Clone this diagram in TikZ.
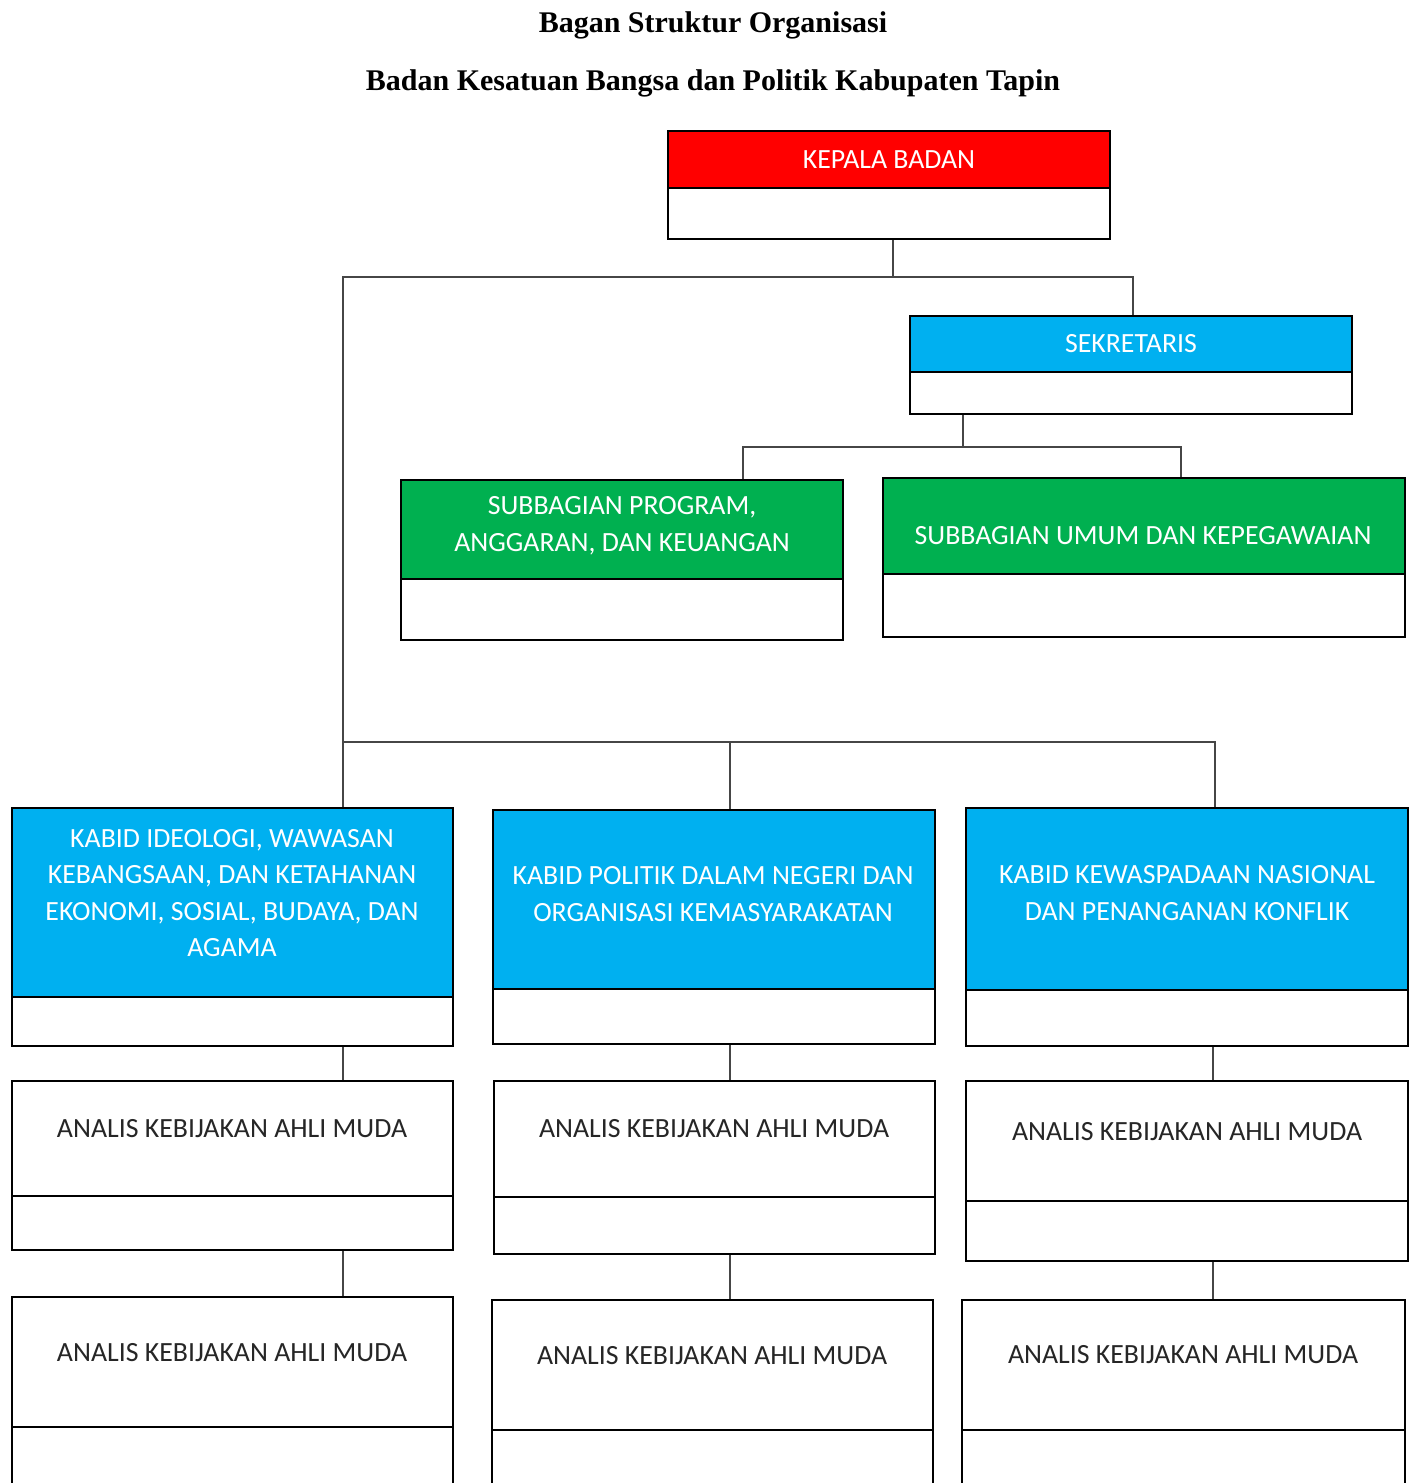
\documentclass[tikz,border=0pt]{standalone}
\usepackage{fontspec}
\setmainfont{Liberation Serif}
\newfontfamily\boxfont{Carlito}
\usetikzlibrary{fit}
\definecolor{kred}{RGB}{255,0,0}
\definecolor{kblue}{RGB}{0,176,240}
\definecolor{kgreen}{RGB}{0,176,80}
\definecolor{lineg}{RGB}{70,70,70}
\tikzset{
  hdr/.style={draw=black, line width=1pt, inner sep=0pt},
  ftr/.style={draw=black, line width=1pt, fill=white, inner sep=0pt},
  conn/.style={draw=lineg, line width=0.8pt},
  wtxt/.style={text=white, font=\boxfont\fontsize{13.9}{18.25}\selectfont, align=center, inner sep=0pt},
  btxt/.style={text=black!85, font=\boxfont\fontsize{13.9}{18.25}\selectfont, align=center, inner sep=0pt},
  ttl/.style={font=\bfseries\fontsize{15}{18}\selectfont, inner sep=0pt}
}
\newcommand\orgbox[7]{%
  \node[hdr, fill=#7, fit={(#2,#3)(#4,#5)}] (#1h) {};
  \node[ftr, fit={(#2,#5)(#4,#6)}] (#1) {};
}
\begin{document}
\begin{tikzpicture}[x=0.5pt, y=-0.5pt]
\clip (0,0) rectangle (1416,1483);
\fill[white] (0,0) rectangle (1416,1483);

\node[ttl] (t1) at (713,25) {Bagan Struktur Organisasi};
\node[ttl] (t2) at (713,83) {Badan Kesatuan Bangsa dan Politik Kabupaten Tapin};

% coordinates for junctions
\coordinate (j1) at (893,277);
\coordinate (jL) at (343,277);
\coordinate (jR) at (1133,277);
\coordinate (jS) at (963,447);
\coordinate (jA) at (743,447);
\coordinate (jB) at (1181,447);
\coordinate (jK1) at (343,742);
\coordinate (jK2) at (730,742);
\coordinate (jK3) at (1215,742);

% boxes
\orgbox{kep}{668}{131}{1110}{188}{239}{kred}
\orgbox{sek}{910}{316}{1352}{372}{414}{kblue}
\orgbox{sub1}{401}{480}{843}{579}{640}{kgreen}
\orgbox{sub2}{883}{478}{1405}{574}{637}{kgreen}
\orgbox{kab1}{12}{808}{453}{997}{1046}{kblue}
\orgbox{kab2}{493}{810}{935}{989}{1044}{kblue}
\orgbox{kab3}{966}{808}{1408}{990}{1046}{kblue}
\orgbox{an11}{12}{1081}{453}{1196}{1250}{white}
\orgbox{an12}{494}{1081}{935}{1197}{1254}{white}
\orgbox{an13}{966}{1081}{1408}{1201}{1261}{white}
\orgbox{an21}{12}{1297}{453}{1427}{1492}{white}
\orgbox{an22}{492}{1300}{933}{1430}{1492}{white}
\orgbox{an23}{962}{1300}{1405}{1430}{1492}{white}

% texts
\node[wtxt] (tkep) at (889,160) {KEPALA BADAN};
\node[wtxt] (tsek) at (1131,344) {SEKRETARIS};
\node[wtxt] (tsub1) at (622,526) {SUBBAGIAN PROGRAM,\\ANGGARAN, DAN KEUANGAN};
\node[wtxt] (tsub2) at (1143,536) {SUBBAGIAN UMUM DAN KEPEGAWAIAN};
\node[wtxt] (tkab1) at (232,893) {KABID IDEOLOGI, WAWASAN\\KEBANGSAAN, DAN KETAHANAN\\EKONOMI, SOSIAL, BUDAYA, DAN\\AGAMA};
\node[wtxt] (tkab2) at (713,894) {KABID POLITIK DALAM NEGERI DAN\\ORGANISASI KEMASYARAKATAN};
\node[wtxt] (tkab3) at (1187,893) {KABID KEWASPADAAN NASIONAL\\DAN PENANGANAN KONFLIK};
\node[btxt] (ta11) at (232,1129) {ANALIS KEBIJAKAN AHLI MUDA};
\node[btxt] (ta12) at (714,1129) {ANALIS KEBIJAKAN AHLI MUDA};
\node[btxt] (ta13) at (1187,1132) {ANALIS KEBIJAKAN AHLI MUDA};
\node[btxt] (ta21) at (232,1353) {ANALIS KEBIJAKAN AHLI MUDA};
\node[btxt] (ta22) at (712,1356) {ANALIS KEBIJAKAN AHLI MUDA};
\node[btxt] (ta23) at (1183,1355) {ANALIS KEBIJAKAN AHLI MUDA};

% connectors
\draw[conn] (kep.south -| j1) -- (j1);
\draw[conn] (kab1h.north -| jL) -- (jL) -- (jR) -- (sekh.north -| jR);
\draw[conn] (sek.south -| jS) -- (jS);
\draw[conn] (sub1h.north -| jA) -- (jA) -- (jB) -- (sub2h.north -| jB);
\draw[conn] (jK1) -- (jK3) -- (kab3h.north -| jK3);
\draw[conn] (jK2) -- (kab2h.north -| jK2);
\draw[conn] (kab1.south -| jK1) -- (an11h.north -| jK1);
\draw[conn] (kab2.south -| jK2) -- (an12h.north -| jK2);
\draw[conn] (kab3.south -| 1213,0) -- (an13h.north -| 1213,0);
\draw[conn] (an11.south -| jK1) -- (an21h.north -| jK1);
\draw[conn] (an12.south -| jK2) -- (an22h.north -| jK2);
\draw[conn] (an13.south -| 1213,0) -- (an23h.north -| 1213,0);
\end{tikzpicture}
\end{document}
